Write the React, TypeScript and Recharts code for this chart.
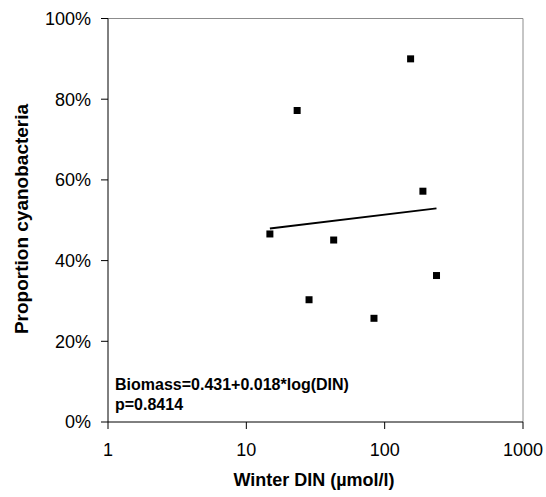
import { ScatterChart, Scatter, XAxis, YAxis, ReferenceLine } from "recharts";

// winter DIN (µmol/l) and proportion of cyanobacteria per lake
const winterDin = [14.8, 23.3, 28.4, 42.8, 83.7, 154, 189, 237];
const proportionCyano = [0.466, 0.772, 0.303, 0.451, 0.257, 0.9, 0.572, 0.363];

// fitted regression: Biomass = a + b * ln(DIN)
const fitIntercept = 0.431;
const fitSlope = 0.018;
const fitPValue = "0.8414";

const xTicks = [1, 10, 100, 1000];
const yTicks = [0, 0.2, 0.4, 0.6, 0.8, 1];

const points = winterDin.map((din, i) => ({ din, prop: proportionCyano[i] }));

const fitRange = [Math.min(...winterDin), Math.max(...winterDin)];
const fitLine = fitRange.map((din) => ({ din, prop: fitIntercept + fitSlope * Math.log(din) }));

const font = "Arial, 'Liberation Sans', sans-serif";

const SquareDot = (props: any) => {
    const { cx, cy } = props;
    if (cx == null || cy == null) return <g />;
    return <rect x={cx - 3.5} y={cy - 3.5} width={7} height={7} fill="#000" />;
};

export default function App() {
    return (
        <div style={{ position: "absolute", left: 0, top: 0, width: 546, height: 497, background: "#fff" }}>
            <ScatterChart
                width={546}
                height={497}
                margin={{ top: 18.5, right: 23, bottom: 45, left: 48 }}
            >
                <XAxis
                    type="number"
                    dataKey="din"
                    scale="log"
                    domain={[1, 1000]}
                    ticks={xTicks}
                    allowDataOverflow
                    height={30}
                    stroke="#000"
                    tickSize={7}
                    tickMargin={14}
                    tick={{ fill: "#000", fontSize: 18, fontFamily: font }}
                />
                <YAxis
                    type="number"
                    dataKey="prop"
                    domain={[0, 1]}
                    ticks={yTicks}
                    width={60}
                    stroke="#000"
                    tickSize={7}
                    tickMargin={10}
                    tickFormatter={(v: number) => `${Math.round(v * 100)}%`}
                    tick={{ fill: "#000", fontSize: 18, fontFamily: font }}
                />
                {/* grey frame on top and right */}
                <ReferenceLine y={1} stroke="#8c8c8c" />
                <ReferenceLine x={1000} stroke="#8c8c8c" />
                <Scatter
                    data={fitLine}
                    line={{ stroke: "#000", strokeWidth: 2 }}
                    shape={() => <g />}
                    isAnimationActive={false}
                />
                <Scatter data={points} shape={SquareDot} isAnimationActive={false} />
                <text
                    x={21}
                    y={219}
                    transform="rotate(-90, 21, 219)"
                    textAnchor="middle"
                    dominantBaseline="central"
                    fontFamily={font}
                    fontSize={19}
                    fontWeight="bold"
                    fill="#000"
                >
                    Proportion cyanobacteria
                </text>
                <text x={314} y={485.5} textAnchor="middle" fontFamily={font} fontSize={18} fontWeight="bold" fill="#000">
                    Winter DIN (µmol/l)
                </text>
                <text x={115} y={390} fontFamily={font} fontSize={16} fontWeight="bold" fill="#000">
                    {`Biomass=${fitIntercept}+${fitSlope}*log(DIN)`}
                </text>
                <text x={115} y={409.5} fontFamily={font} fontSize={16} fontWeight="bold" fill="#000">
                    {`p=${fitPValue}`}
                </text>
            </ScatterChart>
        </div>
    );
}
